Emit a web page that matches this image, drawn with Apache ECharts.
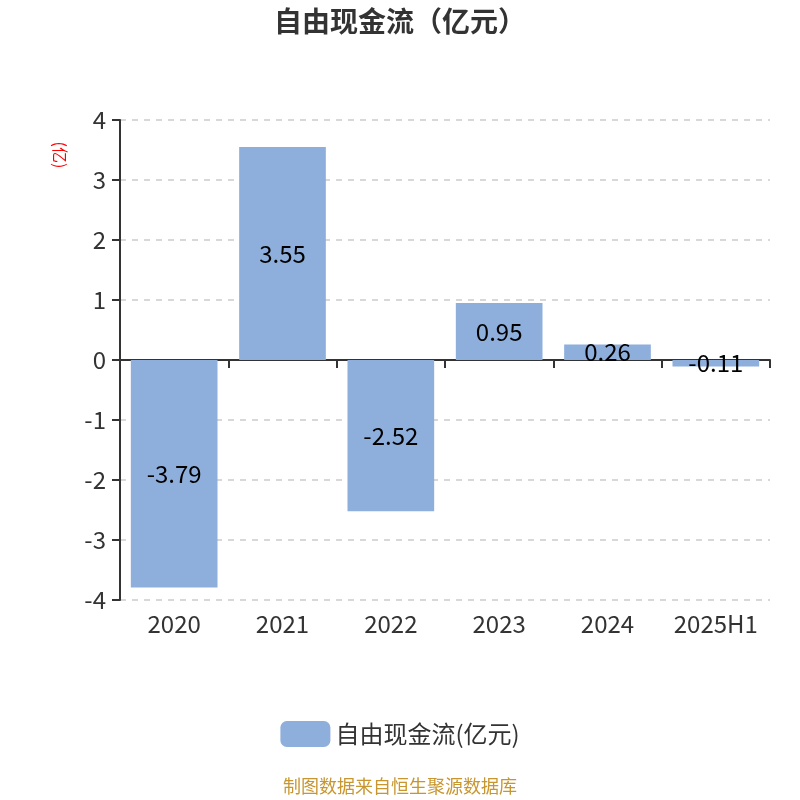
<!DOCTYPE html>
<html>
<head>
<meta charset="utf-8">
<script src="https://cdn.jsdelivr.net/npm/echarts@6/dist/echarts.min.js"></script>
<style>
html,body{margin:0;padding:0;background:#fff;}
#main{width:800px;height:800px;}
</style>
</head>
<body>
<div id="main"></div>
<script>
var categories = ['2020', '2021', '2022', '2023', '2024', '2025H1'];
var values = [-3.79, 3.55, -2.52, 0.95, 0.26, -0.11];
var seriesName = '自由现金流(亿元)';

var myChart = echarts.init(document.getElementById('main'));
var font = '"Noto Sans CJK SC", "Noto Sans", sans-serif';

var option = {
    textStyle: { fontFamily: font },
    title: {
        text: '自由现金流（亿元）',
        left: 'center',
        top: 2,
        textStyle: { fontSize: 28, fontWeight: 'bold', color: '#333', fontFamily: font }
    },
    legend: {
        data: [seriesName],
        bottom: 48,
        itemWidth: 50,
        itemHeight: 26,
        itemGap: 10,
        textStyle: { fontSize: 24, color: '#333', fontFamily: font }
    },
    grid: { left: 120, right: 30, top: 120, bottom: 200 },
    graphic: [{
        type: 'text',
        x: 60,
        y: 155,
        rotation: -Math.PI / 2,
        style: {
            text: '(亿)',
            fill: '#f00',
            fontSize: 16,
            fontFamily: font,
            align: 'center',
            verticalAlign: 'middle'
        }
    }, {
        type: 'text',
        left: 'center',
        top: 777,
        style: {
            text: '制图数据来自恒生聚源数据库',
            fill: '#c8962e',
            fontSize: 18,
            fontFamily: font
        }
    }],
    xAxis: [{
        type: 'category',
        data: categories,
        axisLine: { onZero: true, lineStyle: { color: '#333', width: 2 } },
        axisTick: { show: true, length: 8, lineStyle: { color: '#333', width: 2 } },
        axisLabel: { show: false }
    }, {
        type: 'category',
        data: categories,
        position: 'bottom',
        axisLine: { show: false, onZero: false },
        axisTick: { show: false },
        axisLabel: { fontSize: 24, color: '#333', margin: 12, interval: 0, hideOverlap: false }
    }],
    yAxis: {
        type: 'value',
        min: -4,
        max: 4,
        interval: 1,
        axisLine: { show: true, lineStyle: { color: '#333', width: 2 } },
        axisTick: { show: true, length: 8, lineStyle: { color: '#333', width: 2 } },
        axisLabel: { fontSize: 24, color: '#333', margin: 14 },
        splitLine: { lineStyle: { type: [6, 6], color: '#ccc', width: 1.5 } }
    },
    series: [{
        name: seriesName,
        type: 'bar',
        data: values,
        barWidth: '80%',
        itemStyle: { color: '#8eaedb' },
        label: {
            show: true,
            position: 'inside',
            fontSize: 24,
            color: '#000',
            fontFamily: font
        }
    }]
};

myChart.setOption(option);
</script>
</body>
</html>
